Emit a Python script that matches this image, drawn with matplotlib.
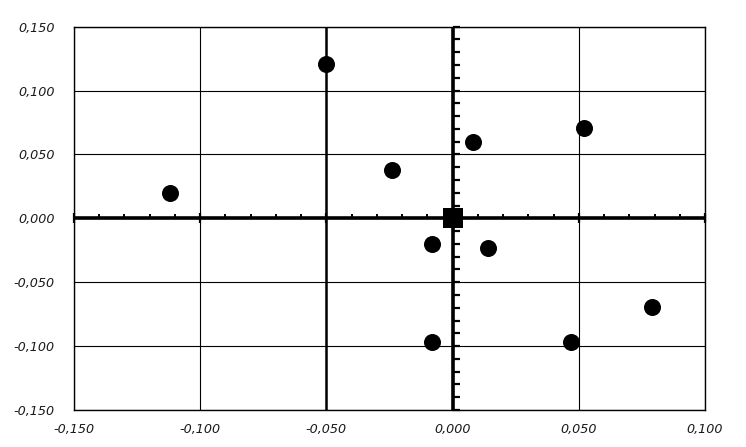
import numpy as np
import matplotlib
matplotlib.use("Agg")
import matplotlib.pyplot as plt
from matplotlib.ticker import FuncFormatter

# scatter points
x_vals = [-0.112, -0.050, -0.024, 0.008, 0.052, -0.008, 0.014, -0.008, 0.047, 0.079]
y_vals = [0.020, 0.121, 0.038, 0.060, 0.071, -0.020, -0.023, -0.097, -0.097, -0.069]
origin_x = [0.0]
origin_y = [0.0]

x_ticks = [-0.150, -0.100, -0.050, 0.000, 0.050, 0.100]
y_ticks = [-0.150, -0.100, -0.050, 0.000, 0.050, 0.100, 0.150]


def comma_fmt(v, pos):
    s = "%.3f" % v
    if s == "-0.000":
        s = "0.000"
    return s.replace(".", ",")


fig = plt.figure(figsize=(7.46, 4.47), dpi=100)
ax = fig.add_axes([74 / 746, 1 - 410 / 447, (705 - 74) / 746, (410 - 26.7) / 447])

ax.set_xlim(-0.15, 0.10)
ax.set_ylim(-0.15, 0.15)
ax.set_xticks(x_ticks)
ax.set_yticks(y_ticks)
ax.xaxis.set_major_formatter(FuncFormatter(comma_fmt))
ax.yaxis.set_major_formatter(FuncFormatter(comma_fmt))
ax.tick_params(axis="both", length=0, labelsize=9.2, colors="#1a1a1a")
ax.tick_params(axis="x", pad=9)
ax.tick_params(axis="y", pad=14)
for lab in ax.get_xticklabels() + ax.get_yticklabels():
    lab.set_fontstyle("italic")

ax.grid(True, color="black", linewidth=0.8)
ax.set_axisbelow(True)
for sp in ax.spines.values():
    sp.set_color("black")
    sp.set_linewidth(1.0)

# axes through the origin, plus the heavier line at x = -0.05
ax.axhline(0, color="black", linewidth=2.6, zorder=2)
ax.axvline(0, color="black", linewidth=2.6, zorder=2)
ax.axvline(-0.05, color="black", linewidth=1.8, zorder=2)

# small tick marks along the origin axes
xminor = np.arange(-0.15, 0.1001, 0.01)
yminor = np.arange(-0.15, 0.1501, 0.01)
ax.plot(xminor, np.zeros_like(xminor), linestyle="none", marker=2,
        markersize=3, markeredgewidth=1.4, color="black", zorder=2, clip_on=False)
ax.plot(x_ticks, np.zeros(len(x_ticks)), linestyle="none", marker="|",
        markersize=7, markeredgewidth=1.6, color="black", zorder=2, clip_on=False)
ax.plot(np.zeros_like(yminor), yminor, linestyle="none", marker=1,
        markersize=5, markeredgewidth=1.6, color="black", zorder=2, clip_on=False)

ax.scatter(x_vals, y_vals, s=150, color="black", marker="o", zorder=3, linewidths=0)
ax.scatter(origin_x, origin_y, s=190, color="black", marker="s", zorder=3, linewidths=0)

fig.savefig("out.png", dpi=100)
plt.close(fig)
